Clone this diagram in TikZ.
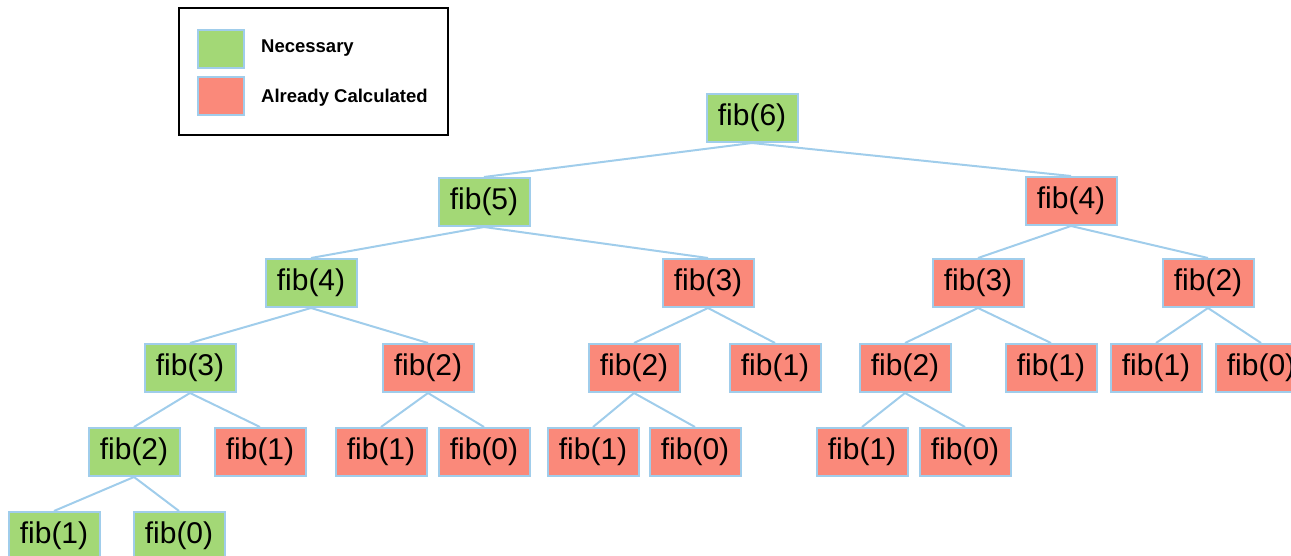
\documentclass[tikz,border=0pt]{standalone}
\usepackage{fontspec}
\setmainfont{Liberation Sans}
\definecolor{needgreen}{RGB}{163,216,118}
\definecolor{donered}{RGB}{250,137,122}
\definecolor{edgeblue}{RGB}{160,205,235}
\tikzset{
  call/.style={draw=edgeblue, line width=2pt, minimum width=91pt, minimum height=48pt,
    inner sep=0pt, font=\fontsize{30}{36}\selectfont},
  need/.style={call, fill=needgreen},
  done/.style={call, fill=donered},
  link/.style={draw=edgeblue, line width=2pt},
  swatch/.style={draw=edgeblue, line width=2pt, minimum width=46pt, minimum height=38pt, inner sep=0pt},
  legtext/.style={anchor=west, font=\bfseries\fontsize{18.5}{22}\selectfont, inner sep=0pt}
}
\begin{document}
\begin{tikzpicture}[x=1pt, y=-1pt]
\useasboundingbox (0,0) rectangle (1291,556);
\begin{scope}
\clip (0,0) rectangle (1291,556);

% legend
\node[draw=black, line width=2pt, minimum width=269pt, minimum height=127pt, inner sep=0pt] (legend) at (313,72) {};
\node[swatch, fill=needgreen] (swg) at (221,49) {};
\node[swatch, fill=donered] (swr) at (221,96) {};
\node[legtext] (lgn) at (261,48) {Necessary};
\node[legtext] (lgr) at (261,98) {Already Calculated};

% level 1
\node[need] (n6) at (752,118) {fib(6)};
% level 2
\node[need] (n5) at (484,202) {fib(5)};
\node[done] (r4) at (1071,201) {fib(4)};
% level 3
\node[need] (n4) at (311,283) {fib(4)};
\node[done] (a3) at (708,283) {fib(3)};
\node[done] (b3) at (978,283) {fib(3)};
\node[done] (b2) at (1208,283) {fib(2)};
% level 4
\node[need] (n3) at (190,368) {fib(3)};
\node[done] (c2) at (428,368) {fib(2)};
\node[done] (d2) at (634,368) {fib(2)};
\node[done] (d1) at (775,368) {fib(1)};
\node[done] (e2) at (905,368) {fib(2)};
\node[done] (e1) at (1051,368) {fib(1)};
\node[done] (f1) at (1156,368) {fib(1)};
\node[done] (f0) at (1261,368) {fib(0)};
% level 5
\node[need] (n2) at (134,452) {fib(2)};
\node[done] (g1) at (260,452) {fib(1)};
\node[done] (h1) at (381,452) {fib(1)};
\node[done] (h0) at (484,452) {fib(0)};
\node[done] (i1) at (593,452) {fib(1)};
\node[done] (i0) at (695,452) {fib(0)};
\node[done] (j1) at (862,452) {fib(1)};
\node[done] (j0) at (965,452) {fib(0)};
% level 6
\node[need] (n1) at (54,536) {fib(1)};
\node[need] (n0) at (179,536) {fib(0)};

% calls
\foreach \p/\c in {n6/n5, n6/r4, n5/n4, n5/a3, r4/b3, r4/b2,
                   n4/n3, n4/c2, a3/d2, a3/d1, b3/e2, b3/e1, b2/f1, b2/f0,
                   n3/n2, n3/g1, c2/h1, c2/h0, d2/i1, d2/i0, e2/j1, e2/j0,
                   n2/n1, n2/n0}
  \draw[link] (\p.south) -- (\c.north);
\end{scope}
\end{tikzpicture}
\end{document}
